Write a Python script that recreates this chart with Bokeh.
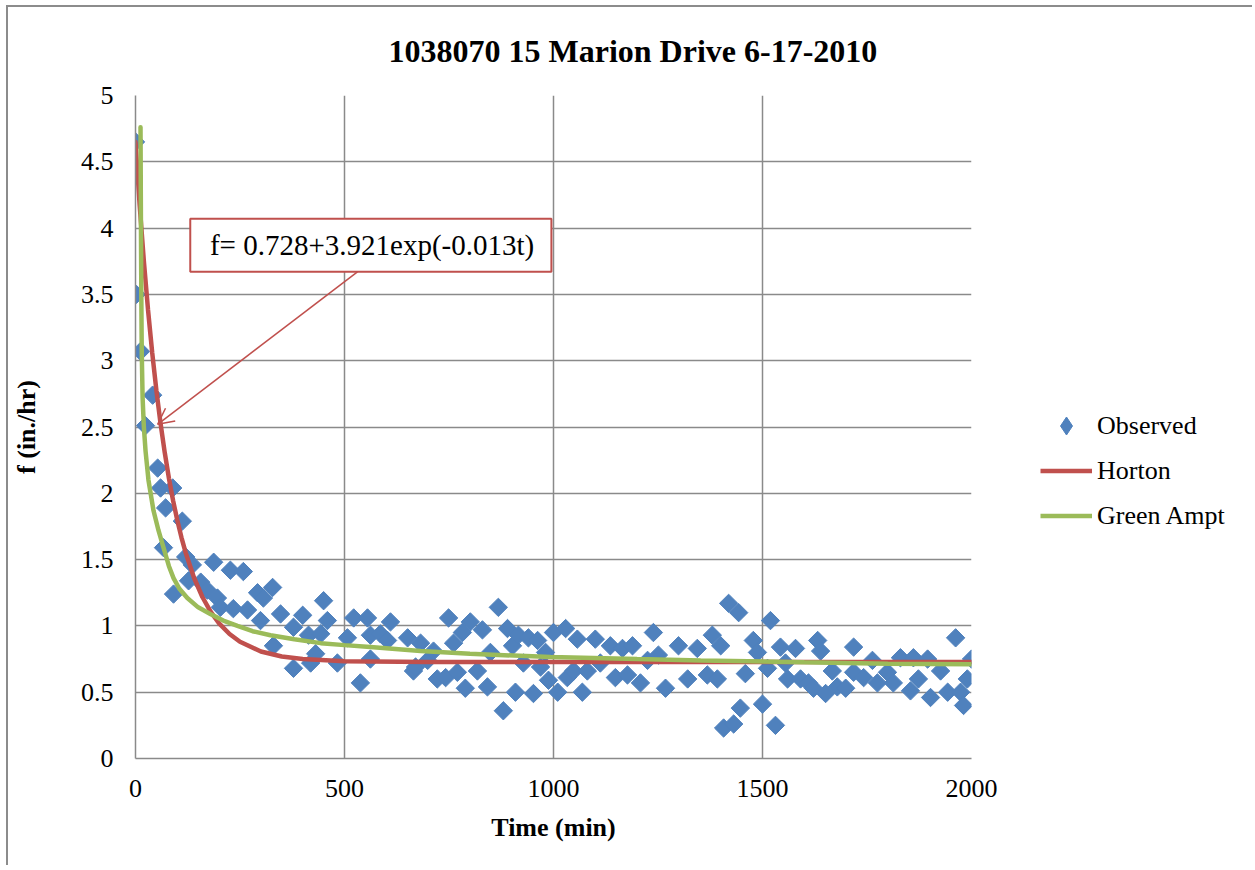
import math
from bokeh.plotting import figure
from bokeh.layouts import row
from bokeh.models import (Legend, LegendItem, FixedTicker, Label, BoxAnnotation,
                          Arrow, OpenHead, Range1d, NumeralTickFormatter)
from bokeh.embed import file_html
from bokeh.resources import INLINE

# ---------------- data ----------------
title_text = "1038070 15 Marion Drive 6-17-2010"
x_title = "Time (min)"
y_title = "f (in./hr)"
x_ticks = [0, 500, 1000, 1500, 2000]
y_ticks = [0, 0.5, 1, 1.5, 2, 2.5, 3, 3.5, 4, 4.5, 5]
equation = "f= 0.728+3.921exp(-0.013t)"

obs_t = [0, 2, 12, 24, 41, 53, 60, 67, 72, 89, 91, 112, 120, 127, 136, 156, 172, 187, 196, 203,
         227, 234, 258, 268, 292, 299, 306, 328, 330, 347, 378, 378, 400, 414, 419, 431, 443, 450,
         459, 483, 507, 522, 538, 555, 562, 562, 586, 603, 610, 651, 665, 670, 682, 699, 713, 722,
         742, 749, 761, 770, 782, 789, 801, 818, 830, 842, 849, 868, 880, 890, 902, 909, 916, 928,
         940, 952, 962, 969, 981, 988, 1000, 1010, 1029, 1033, 1048, 1057, 1069, 1081, 1100, 1112,
         1136, 1148, 1165, 1177, 1189, 1208, 1225, 1239, 1251, 1268, 1299, 1321, 1344, 1368, 1380,
         1392, 1400, 1407, 1419, 1431, 1443, 1447, 1459, 1478, 1488, 1500, 1512, 1519, 1531, 1543,
         1555, 1560, 1579, 1591, 1610, 1622, 1632, 1639, 1651, 1667, 1679, 1699, 1718, 1718, 1742,
         1763, 1775, 1799, 1813, 1830, 1854, 1861, 1873, 1895, 1902, 1926, 1943, 1962, 1974, 1981,
         1990, 2000]
obs_f = [4.65, 3.50, 3.07, 2.51, 2.74, 2.19, 2.04, 1.59, 1.89, 2.04, 1.24, 1.79, 1.52, 1.34, 1.46,
         1.33, 1.27, 1.48, 1.21, 1.14, 1.42, 1.13, 1.41, 1.12, 1.25, 1.04, 1.21, 1.29, 0.85, 1.09,
         0.68, 0.99, 1.08, 0.93, 0.72, 0.79, 0.94, 1.19, 1.04, 0.72, 0.91, 1.06, 0.57, 1.06, 0.75,
         0.93, 0.94, 0.89, 1.03, 0.91, 0.66, 0.69, 0.87, 0.74, 0.81, 0.60, 0.61, 1.06, 0.87, 0.65,
         0.95, 0.53, 1.03, 0.66, 0.97, 0.54, 0.80, 1.14, 0.36, 0.98, 0.85, 0.50, 0.93, 0.72, 0.91,
         0.49, 0.89, 0.69, 0.80, 0.59, 0.95, 0.50, 0.98, 0.61, 0.66, 0.90, 0.50, 0.66, 0.90, 0.72,
         0.85, 0.61, 0.83, 0.63, 0.85, 0.57, 0.74, 0.95, 0.78, 0.53, 0.85, 0.60, 0.83, 0.63, 0.93,
         0.60, 0.85, 0.23, 1.17, 0.26, 1.10, 0.38, 0.64, 0.89, 0.80, 0.41, 0.68, 1.04, 0.25, 0.84,
         0.72, 0.60, 0.83, 0.60, 0.57, 0.53, 0.89, 0.81, 0.49, 0.66, 0.54, 0.53, 0.84, 0.65, 0.61,
         0.74, 0.57, 0.65, 0.57, 0.76, 0.51, 0.76, 0.60, 0.75, 0.46, 0.66, 0.50, 0.91, 0.50, 0.40,
         0.60, 0.75]

horton_t = [0, 10, 20, 30, 40, 50, 60, 70, 80, 90, 100, 110, 120, 140, 160, 180, 200, 225, 250,
            300, 350, 400, 500, 700, 1000, 1500, 2000]
horton_f = [4.649, 4.171, 3.751, 3.383, 3.060, 2.775, 2.525, 2.306, 2.113, 1.944, 1.797, 1.666,
            1.552, 1.363, 1.218, 1.106, 1.019, 0.939, 0.880, 0.807, 0.769, 0.750, 0.734, 0.728,
            0.728, 0.728, 0.728]

green_t = [12, 13, 14, 15, 17, 20, 24, 31, 43, 55, 67, 80, 91, 105, 124, 150, 179, 210, 244, 280,
           323, 380, 443, 500, 562, 682, 800, 993, 1200, 1352, 1600, 1800, 2000]
green_f = [4.76, 4.05, 3.45, 3.05, 2.72, 2.50, 2.32, 2.10, 1.87, 1.72, 1.59, 1.45, 1.36, 1.28,
           1.21, 1.14, 1.09, 1.04, 1.00, 0.96, 0.93, 0.90, 0.87, 0.855, 0.84, 0.81, 0.79, 0.765,
           0.75, 0.74, 0.725, 0.715, 0.71]

series_names = ["Observed", "Horton", "Green Ampt"]

# ---------------- styling ----------------
BLUE = "#4F81BD"
RED = "#C0504D"
GREEN = "#9BBB59"
GRID = "#8a8a8a"
FONT = "Liberation Serif"
MARKER_SIZE = 13
LEGEND_MARKER_SIZE = 20
LINE_W = 4.5

p = figure(width=1003, height=858, output_backend="svg", toolbar_location=None,
           x_range=Range1d(0, 2000), y_range=Range1d(0, 5),
           min_border_left=127, min_border_right=40, min_border_top=88, min_border_bottom=107,
           background_fill_color="white", border_fill_color="white", outline_line_color=None)

p.title.text = title_text
p.title.align = "left"
p.title.offset = 253
p.title.standoff = 50
p.title.vertical_align = "top"
p.title.text_baseline = "top"
p.title.text_font = FONT
p.title.text_font_size = "32px"
p.title.text_font_style = "bold"
p.title.text_color = "black"

p.scatter(obs_t, obs_f, marker="square", angle=math.pi / 4, size=MARKER_SIZE,
          fill_color=BLUE, line_color=BLUE)
p.line(horton_t, horton_f, line_color=RED, line_width=LINE_W, line_cap="round")
p.line(green_t, green_f, line_color=GREEN, line_width=LINE_W, line_cap="round")

p.xaxis.ticker = FixedTicker(ticks=x_ticks)
p.yaxis.ticker = FixedTicker(ticks=y_ticks)
p.xaxis.formatter = NumeralTickFormatter(format="0")
p.yaxis.formatter = NumeralTickFormatter(format="0.[0]")
for ax in (p.xaxis[0], p.yaxis[0]):
    ax.axis_line_color = GRID
    ax.axis_line_width = 1.5
    ax.major_tick_out = 0
    ax.major_tick_in = 0
    ax.minor_tick_out = 0
    ax.minor_tick_in = 0
    ax.major_label_text_font = FONT
    ax.major_label_text_font_size = "26px"
    ax.major_label_text_color = "black"
    ax.axis_label_text_font = FONT
    ax.axis_label_text_font_size = "26px"
    ax.axis_label_text_font_style = "bold"
    ax.axis_label_text_color = "black"
p.xaxis.axis_label = x_title
p.yaxis.axis_label = y_title
p.xaxis.major_label_standoff = 21
p.yaxis.major_label_standoff = 22
p.xaxis.axis_label_standoff = 13
p.yaxis.axis_label_standoff = 37

p.xgrid.grid_line_color = GRID
p.ygrid.grid_line_color = GRID
p.xgrid.grid_line_width = 1.5
p.ygrid.grid_line_width = 1.5

# equation call-out
p.add_layout(BoxAnnotation(left=131, right=995, bottom=3.67, top=4.07, fill_color="white",
                           fill_alpha=1.0, line_color=RED, line_width=2, line_alpha=1.0))
p.add_layout(Label(x=566, y=3.87, text=equation, text_align="center", text_baseline="middle",
                   text_font=FONT, text_font_size="29px", text_color="black"))
p.add_layout(Arrow(x_start=531, y_start=3.67, x_end=53, y_end=2.52, line_color=RED,
                   line_width=1.5, end=OpenHead(size=16, line_color=RED, line_width=1.5)))

# ---------------- legend panel (hidden copies of the series carry the legend) ----------------
pl = figure(width=241, height=858, output_backend="svg", toolbar_location=None,
            x_range=Range1d(0, 1), y_range=Range1d(0, 1),
            min_border_left=0, min_border_right=0, min_border_top=0, min_border_bottom=0,
            background_fill_color="white", border_fill_color="white", outline_line_color=None)
pl.axis.visible = False
pl.grid.visible = False
lsc = pl.scatter(obs_t, obs_f, marker="diamond", size=LEGEND_MARKER_SIZE,
                 fill_color=BLUE, line_color=BLUE, visible=False)
lhr = pl.line(horton_t, horton_f, line_color=RED, line_width=LINE_W, visible=False)
lgr = pl.line(green_t, green_f, line_color=GREEN, line_width=LINE_W, visible=False)

legend = Legend(items=[LegendItem(label=series_names[0], renderers=[lsc]),
                       LegendItem(label=series_names[1], renderers=[lhr]),
                       LegendItem(label=series_names[2], renderers=[lgr])],
                location=(29, 220), glyph_width=52, glyph_height=45, label_height=45,
                label_standoff=5, spacing=0, padding=0, margin=0,
                border_line_color=None, background_fill_alpha=0,
                inactive_fill_alpha=0,
                label_text_font=FONT, label_text_font_size="26px", label_text_color="black")
pl.add_layout(legend)

layout = row(p, pl, spacing=0,
             styles={"border-left": "2px solid #8c8c8c", "border-top": "2px solid #8c8c8c",
                     "margin-left": "6px", "margin-top": "5px"})

open("out.html", "w").write(file_html(layout, INLINE))
